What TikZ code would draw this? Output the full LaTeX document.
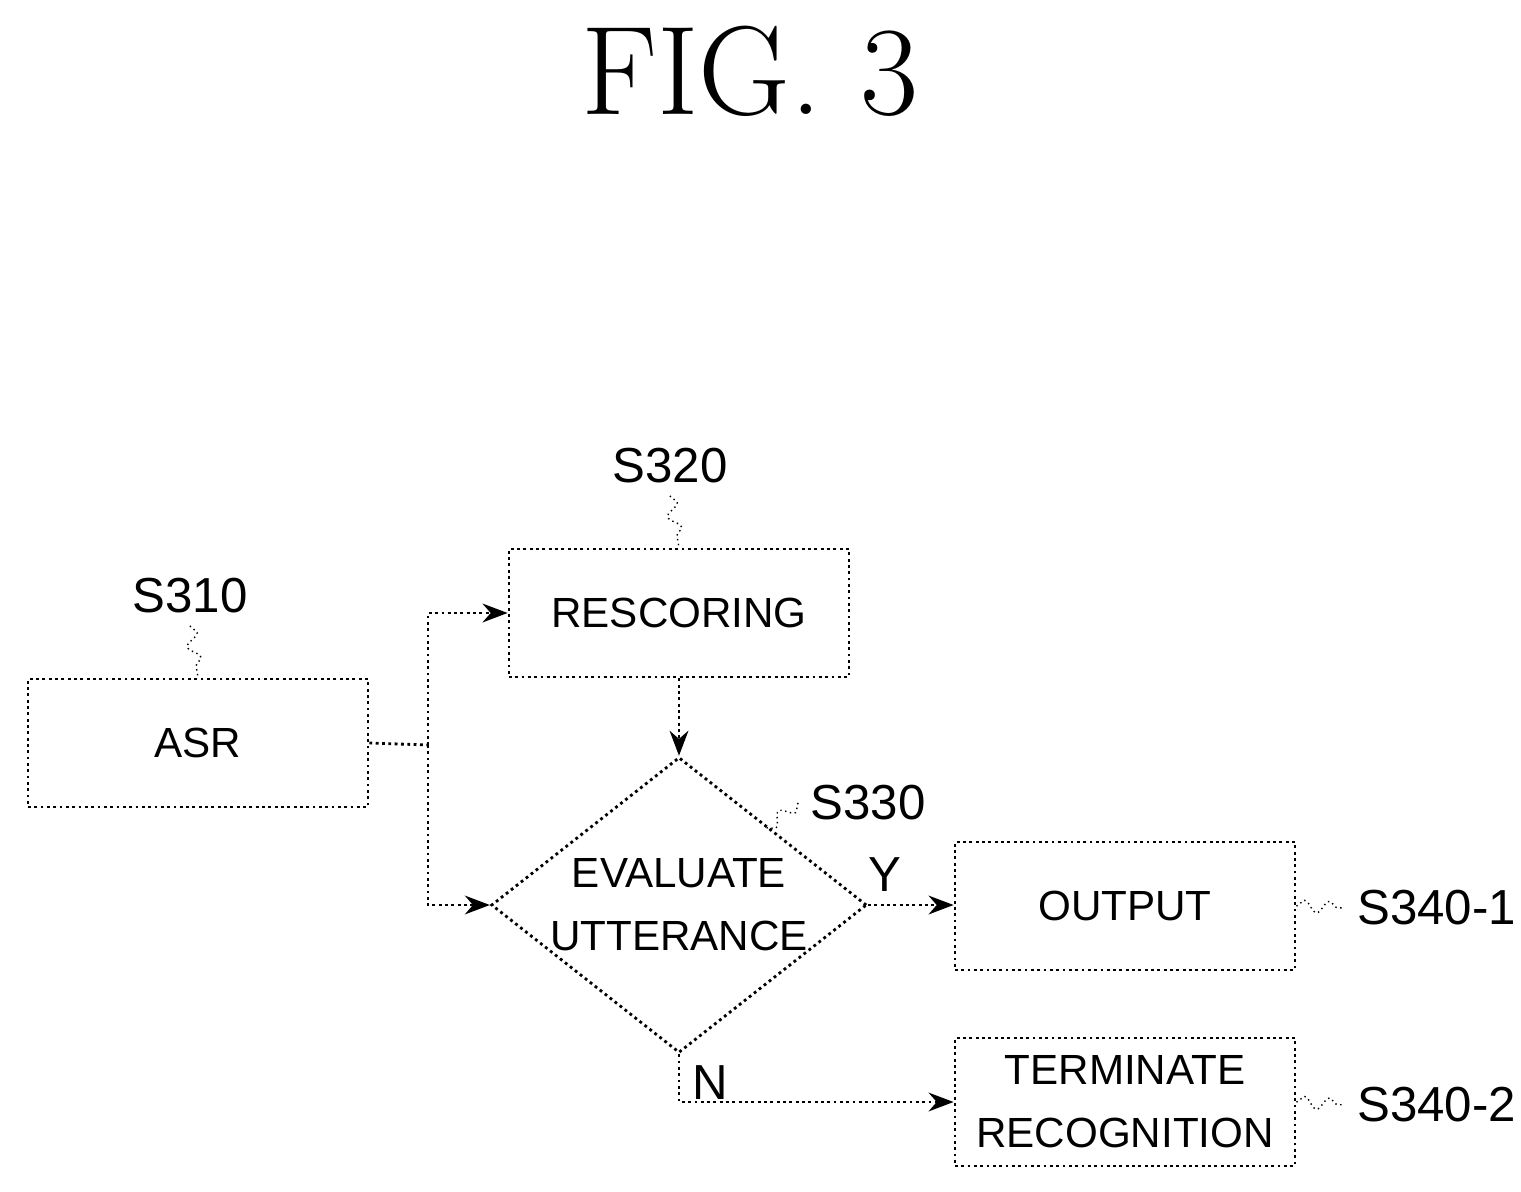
\documentclass[tikz,border=0pt]{standalone}
\usepackage{fontspec}
\setsansfont{Liberation Sans}
\usetikzlibrary{shapes.geometric,arrows.meta,decorations.pathmorphing}
\tikzset{
    stepBox/.style={draw, densely dotted, thick, minimum width=3.4cm, minimum height=1.28cm, inner sep=1pt, align=center, font=\sffamily\fontsize{12}{18}\selectfont},
    decision/.style={draw, densely dotted, thick, diamond, aspect=1.27, minimum width=3.52cm, minimum height=2.77cm, inner sep=0pt, align=center, font=\sffamily\fontsize{12}{18}\selectfont},
    flow/.style={densely dotted, thick, -{Stealth[length=2.5mm]}},
    stepLabel/.style={font=\sffamily\fontsize{14}{16}\selectfont},
    wiggle/.style={densely dotted, decorate, decoration={snake, amplitude=0.6mm, segment length=2.5mm}}
}
\begin{document}
\begin{tikzpicture}[x=1cm, y=1cm]
\useasboundingbox (0,0) rectangle (15.21,11.91);
\node[font=\fontsize{36}{40}\selectfont] (title) at (7.5,11.2) {FIG. 3};

    \node[stepBox] (asr) at (1.98,4.48) {ASR};
    \node[stepBox] (rescoring) at (6.79,5.78) {RESCORING};
    \node[decision] (evaluate) at (6.79,2.86) {EVALUATE\\UTTERANCE};
    \node[stepBox] (output) at (11.25,2.85) {OUTPUT};
    \node[stepBox] (terminate) at (11.25,0.89) {TERMINATE\\RECOGNITION};

    % step labels
    \node[stepLabel] (s310) at (1.9,5.95) {S310};
    \node[stepLabel] (s320) at (6.7,7.25) {S320};
    \node[stepLabel] (s330) at (8.68,3.88) {S330};
    \node[stepLabel, anchor=west] (s3401) at (13.45,2.83) {S340-1};
    \node[stepLabel, anchor=west] (s3402) at (13.45,0.86) {S340-2};
    \draw[wiggle] (s310.south) -- (asr.north);
    \draw[wiggle] (s320.south) -- (rescoring.north);
    \draw[wiggle] (s330.west) -- (7.65,3.62);
    \draw[wiggle] (output.east) -- (s3401.west);
    \draw[wiggle] (terminate.east) -- (s3402.west);

    % connectors
    \coordinate (split) at (4.28,4.46);
    \draw[densely dotted, thick] (asr.east) -- (split);
    \draw[flow] (split) |- (rescoring.west);
    \draw[flow] (split) |- (evaluate.west);
    \draw[flow] (rescoring.south) -- (evaluate.north);
    \draw[flow] (evaluate.east) -- node[above, pos=0.2, font=\sffamily\fontsize{14}{16}\selectfont] {Y} (output.west |- evaluate.east);
    \draw[flow] (evaluate.south) |- node[right, pos=0.3, font=\sffamily\fontsize{14}{16}\selectfont] {N} (terminate.west);
\end{tikzpicture}
\end{document}
